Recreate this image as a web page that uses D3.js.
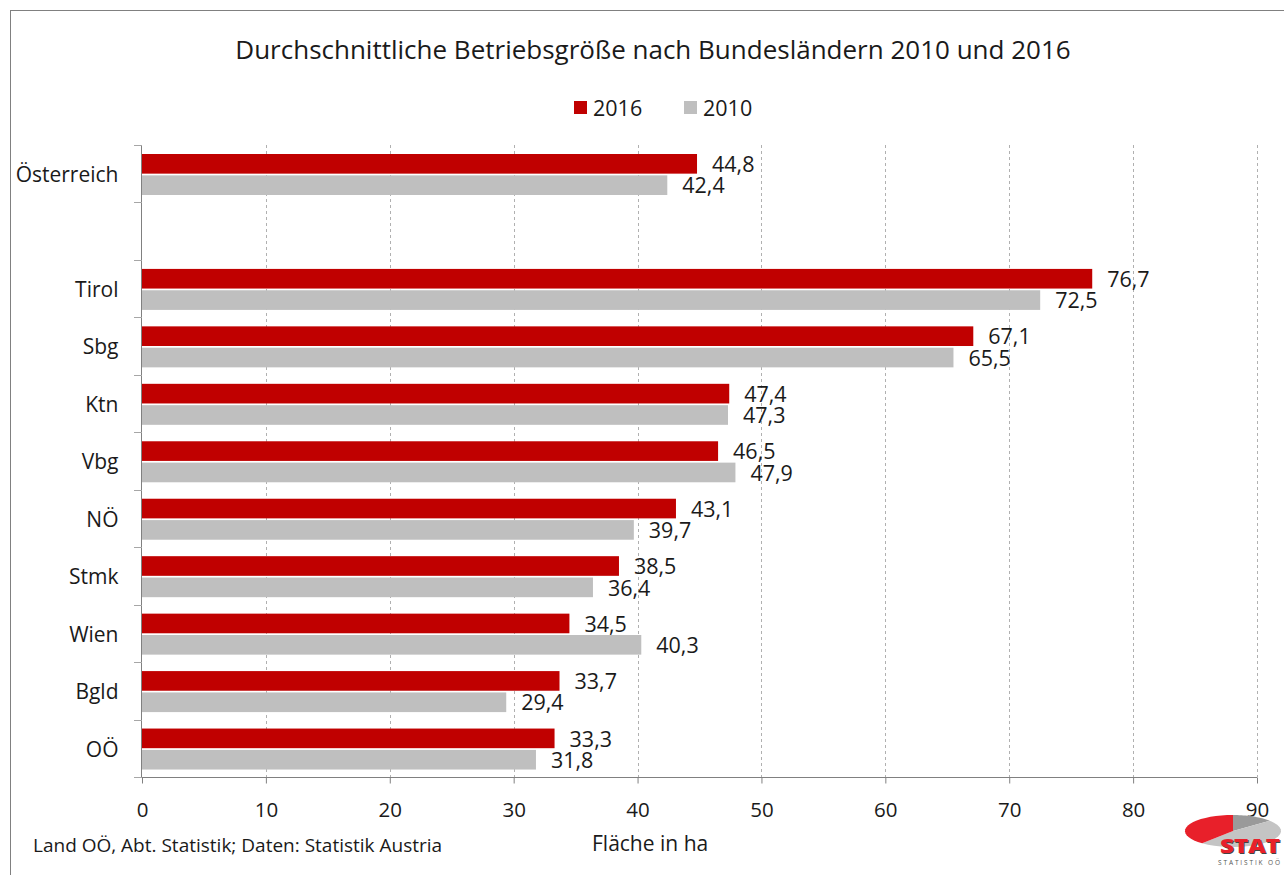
<!DOCTYPE html>
<html><head><meta charset="utf-8">
<script src="https://cdn.jsdelivr.net/npm/d3@7"></script>
<style>
html,body{margin:0;padding:0;background:#fff;}
svg text{font-family:"Open Sans","DejaVu Sans",sans-serif;fill:#1a1a1a;}
</style></head>
<body>
<svg id="c" width="1284" height="875"></svg>
<script>
const categories = ["Österreich", "", "Tirol", "Sbg", "Ktn", "Vbg", "NÖ", "Stmk", "Wien", "Bgld", "OÖ"];
const values2016 = [44.8, null, 76.7, 67.1, 47.4, 46.5, 43.1, 38.5, 34.5, 33.7, 33.3];
const values2010 = [42.4, null, 72.5, 65.5, 47.3, 47.9, 39.7, 36.4, 40.3, 29.4, 31.8];
const seriesNames = ["2016", "2010"];
const xTicks = [0, 10, 20, 30, 40, 50, 60, 70, 80, 90];
const colors = {"2016": "#C00000", "2010": "#BFBFBF"};

const svg = d3.select("#c");
// frame
svg.append("rect").attr("x", 10.5).attr("y", 10.5).attr("width", 1300).attr("height", 900)
  .attr("fill", "none").attr("stroke", "#808080").attr("stroke-width", 1);

const x = d3.scaleLinear().domain([0, 90]).range([142, 1257]);
const y = d3.scaleBand().domain(categories.map((c, i) => i)).range([145, 777]).paddingInner(0).paddingOuter(0);
const inner = d3.scaleBand().domain(seriesNames).range([9, 50]).paddingInner(0.08);

// gridlines
svg.append("g").selectAll("line").data(xTicks.filter(d => d > 0)).join("line")
  .attr("x1", d => Math.round(x(d)) + 0.5).attr("x2", d => Math.round(x(d)) + 0.5)
  .attr("y1", 145).attr("y2", 777)
  .attr("stroke", "#b0b0b0").attr("stroke-width", 1).attr("stroke-dasharray", "3,3");

// bars
const data = [];
categories.forEach((c, i) => {
  if (values2016[i] != null) data.push({i, s: "2016", v: values2016[i]});
  if (values2010[i] != null) data.push({i, s: "2010", v: values2010[i]});
});
svg.append("g").selectAll("rect").data(data).join("rect")
  .attr("x", x(0)).attr("y", d => y(d.i) + inner(d.s))
  .attr("width", d => x(d.v) - x(0)).attr("height", inner.bandwidth())
  .attr("fill", d => colors[d.s]);

// value labels
const fmt = v => d3.format(".1f")(v).replace(".", ",");
svg.append("g").selectAll("text").data(data).join("text")
  .attr("x", d => x(d.v) + 15).attr("y", d => y(d.i) + inner(d.s) + inner.bandwidth() / 2)
  .attr("dy", "0.38em").attr("font-size", 21.5).text(d => fmt(d.v));

// x axis
const xAxis = d3.axisBottom(x).tickValues(xTicks).tickSize(6).tickPadding(19).tickFormat(d3.format("d"));
const gx = svg.append("g").attr("transform", "translate(0,777.5)").call(xAxis);
gx.select(".domain").attr("stroke", "#808080").attr("d", "M134,0H1257");
gx.selectAll(".tick line").attr("stroke", "#808080");
gx.selectAll(".tick text").attr("font-size", 20.5).attr("font-family", "Open Sans").attr("fill", "#1a1a1a");

// y axis
const yAxis = d3.axisLeft(y).tickSize(0).tickPadding(23).tickFormat(i => categories[i]);
const gy = svg.append("g").attr("transform", "translate(141.5,0)").call(yAxis);
gy.select(".domain").attr("stroke", "#808080").attr("d", "M0,145V777");
gy.selectAll(".tick text").attr("font-size", 21).attr("font-family", "Open Sans").attr("fill", "#1a1a1a").attr("dy", "0.4em");
// category boundary ticks
const bounds = d3.range(categories.length + 1).map(k => 145 + k * y.bandwidth());
svg.append("g").selectAll("line").data(bounds).join("line")
  .attr("x1", 134).attr("x2", 142).attr("y1", d => Math.round(d) + 0.5).attr("y2", d => Math.round(d) + 0.5)
  .attr("stroke", "#a6a6a6");

// title
svg.append("text").attr("x", 653).attr("y", 59).attr("text-anchor", "middle")
  .attr("font-size", 26).text("Durchschnittliche Betriebsgröße nach Bundesländern 2010 und 2016");

// legend
const leg = svg.append("g");
const legX = [574, 684];
seriesNames.forEach((s, k) => {
  leg.append("rect").attr("x", legX[k]).attr("y", 101).attr("width", 13).attr("height", 13).attr("fill", colors[s]);
  leg.append("text").attr("x", legX[k] + 19).attr("y", 108).attr("dy", "0.38em").attr("font-size", 21.5).text(s);
});

// footer
svg.append("text").attr("x", 33).attr("y", 852).attr("font-size", 19).text("Land OÖ, Abt. Statistik; Daten: Statistik Austria");
svg.append("text").attr("x", 592).attr("y", 851).attr("font-size", 21).text("Fläche in ha");

// logo
const logo = svg.append("g").attr("transform", "translate(1233,831)");
const rx = 48, ry = 16;
const arcPath = (a0, a1) => {
  const pts = d3.range(0, 21).map(k => { const a = a0 + (a1 - a0) * k / 20; return [rx * Math.cos(a), ry * Math.sin(a)]; });
  return "M0,0L" + pts.map(p => p.join(",")).join("L") + "Z";
};
const deg = Math.PI / 180;
logo.append("path").attr("d", arcPath(-90 * deg, -40 * deg)).attr("fill", "#9a9a9a");
logo.append("path").attr("d", arcPath(-40 * deg, 130 * deg)).attr("fill", "#c4c4c4");
logo.append("path").attr("d", arcPath(130 * deg, 270 * deg)).attr("fill", "#e8202a");
logo.append("text").attr("x", -12).attr("y", 23).attr("font-size", 19).attr("textLength", 60).attr("lengthAdjust", "spacingAndGlyphs")
  .attr("font-weight", 900).attr("font-family", "Liberation Sans").style("fill", "#444").text("STAT");
logo.append("text").attr("x", -13).attr("y", 22).attr("font-size", 19).attr("textLength", 60).attr("lengthAdjust", "spacingAndGlyphs")
  .attr("font-weight", 900).attr("font-family", "Liberation Sans").style("fill", "#e8202a").text("STAT");
logo.append("text").attr("x", -15).attr("y", 34).attr("font-size", 6.5).attr("textLength", 62).attr("lengthAdjust", "spacing")
  .attr("font-family", "Liberation Sans").style("fill", "#555").text("STATISTIK OÖ");
</script>
</body></html>
